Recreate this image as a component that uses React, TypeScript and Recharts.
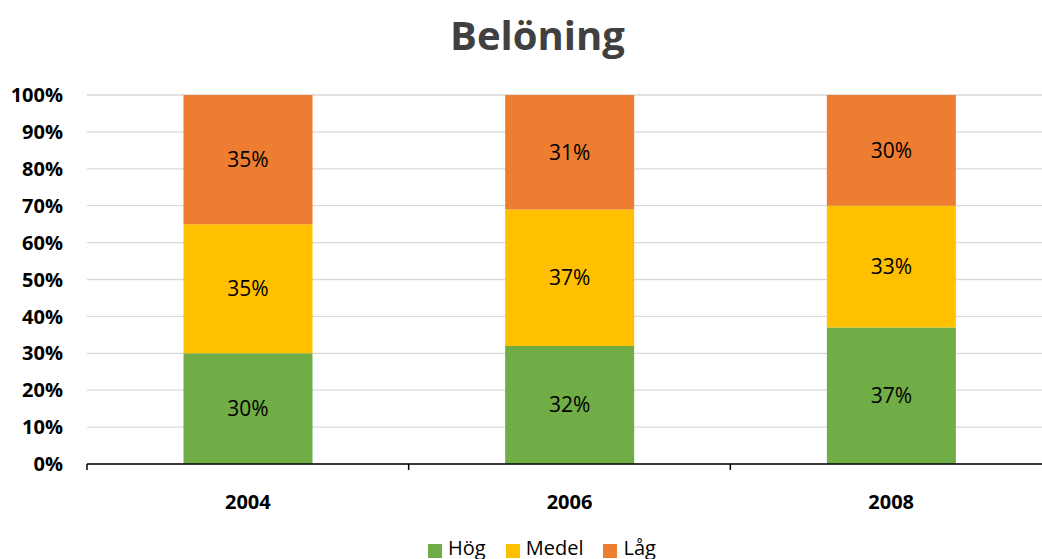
import React from 'react';
import { BarChart, Bar, XAxis, YAxis, CartesianGrid, Legend, LabelList } from 'recharts';

const years = ['2004', '2006', '2008'];
const hog = [30, 32, 37];
const medel = [35, 37, 33];
const lag = [35, 31, 30];
const yTicks = [0, 10, 20, 30, 40, 50, 60, 70, 80, 90, 100];

const data = years.map((y, i) => ({ year: y, Hög: hog[i], Medel: medel[i], Låg: lag[i] }));

const FONT = '"Open Sans", sans-serif';

const XTick = (props: any) => {
  const { x, y, payload, width, visibleTicksCount, index } = props;
  const band = width / visibleTicksCount;
  const left = x - band / 2;
  const right = x + band / 2;
  return (
    <g>
      <line x1={left} y1={y - 8} x2={left} y2={y - 2} stroke="#000" strokeWidth={1.5} />
      {index === visibleTicksCount - 1 && (
        <line x1={right} y1={y - 8} x2={right} y2={y - 2} stroke="#000" strokeWidth={1.5} />
      )}
      <text x={x} y={y + 37} textAnchor="middle" fontFamily={FONT} fontWeight="bold" fontSize={20} fill="#000">
        {payload.value}
      </text>
    </g>
  );
};

const legendFormatter = (value: string) => (
  <span style={{ color: '#000', fontSize: 20, fontFamily: FONT, marginLeft: 2, marginRight: 10 }}>{value}</span>
);

const order = ['Hög', 'Medel', 'Låg'];

export default function App() {
  return (
    <div style={{ position: 'absolute', left: 0, top: 0, width: 1042, height: 559, overflow: 'hidden', background: '#fff' }}>
      <div
        style={{
          position: 'absolute', left: 0, top: 8, width: 1075, textAlign: 'center',
          fontFamily: FONT, fontWeight: 'bold', fontSize: 40, color: '#404040', lineHeight: '54px',
        }}
      >
        Belöning
      </div>
      <BarChart
        width={1060}
        height={559}
        data={data}
        margin={{ top: 95, right: 8, left: 0, bottom: 38 }}
        barCategoryGap="30%"
      >
        <CartesianGrid vertical={false} stroke="#d9d9d9" strokeWidth={1.3} />
        <XAxis
          dataKey="year"
          axisLine={{ stroke: '#000', strokeWidth: 1.5 }}
          tickLine={false}
          tick={<XTick />}
          interval={0}
        />
        <YAxis
          width={87}
          domain={[0, 100]}
          ticks={yTicks}
          interval={0}
          axisLine={false}
          tickLine={false}
          tickMargin={18}
          tickFormatter={(v: number) => `${v}%`}
          tick={{ fontFamily: FONT, fontWeight: 'bold', fontSize: 20, fill: '#000' }}
        />
        <Legend
          verticalAlign="bottom"
          iconType="square"
          iconSize={14}
          formatter={legendFormatter}
          itemSorter={(item: any) => order.indexOf(item.value)}
          wrapperStyle={{ left: 22, bottom: -2, width: 1060 }}
        />
        <Bar dataKey="Hög" stackId="a" fill="#70AD47" isAnimationActive={false}>
          <LabelList dataKey="Hög" position="center" formatter={(v: any) => `${v}%`} fill="#000" fontSize={21} fontFamily={FONT} />
        </Bar>
        <Bar dataKey="Medel" stackId="a" fill="#FFC000" isAnimationActive={false}>
          <LabelList dataKey="Medel" position="center" formatter={(v: any) => `${v}%`} fill="#000" fontSize={21} fontFamily={FONT} />
        </Bar>
        <Bar dataKey="Låg" stackId="a" fill="#ED7D31" isAnimationActive={false}>
          <LabelList dataKey="Låg" position="center" formatter={(v: any) => `${v}%`} fill="#000" fontSize={21} fontFamily={FONT} />
        </Bar>
      </BarChart>
    </div>
  );
}
